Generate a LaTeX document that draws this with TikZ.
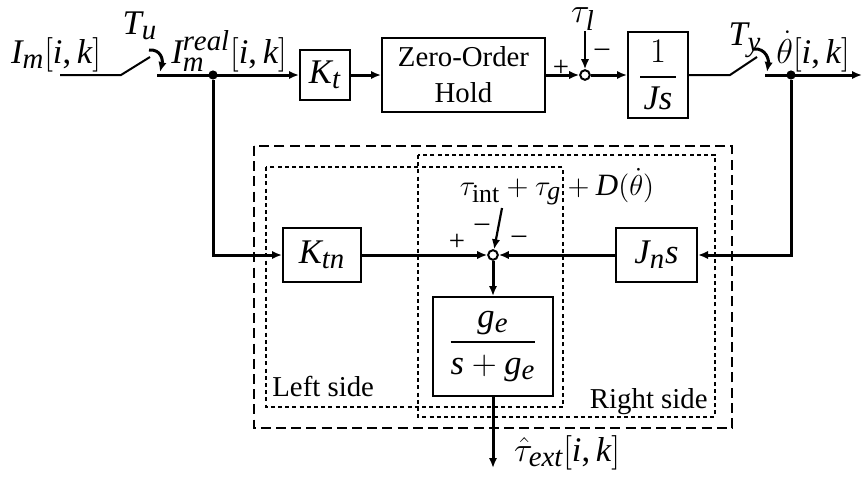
\documentclass[tikz,border=0pt]{standalone}
\usepackage{fontspec}
\setmainfont{Liberation Serif}
\usepackage{amsmath}
\usepackage[italic]{mathastext}
\usetikzlibrary{arrows.meta}
\tikzset{
  block/.style={draw, line width=1pt, inner sep=0pt, align=center, font=\LARGE},
  sumnode/.style={draw, circle, line width=1pt, fill=white, minimum size=4.8pt, inner sep=0pt},
  junction/.style={circle, fill=black, minimum size=4.6pt, inner sep=0pt},
  lbl/.style={inner sep=0pt, font=\LARGE},
  sign/.style={inner sep=0pt, font=\Large},
  wire/.style={line width=1.5pt},
  thinwire/.style={line width=1pt},
  arrow/.style={-{Latex[length=5pt,width=4.2pt]}, line width=1.5pt},
  thinarrow/.style={-{Latex[length=5pt,width=4.2pt]}, line width=1.1pt},
  outerbox/.style={line width=1pt, dash pattern=on 5pt off 2.6pt},
  sidebox/.style={line width=0.75pt, dash pattern=on 2pt off 1.6pt}
}
\begin{document}
\begin{tikzpicture}[x=0.5pt, y=-0.5pt]
  \useasboundingbox (0,0) rectangle (863,482);
  \draw[outerbox] (254,146) rectangle (732,428);
  \draw[sidebox] (266,167) rectangle (563,407);
  \draw[sidebox] (418,155) rectangle (715,417);
  \node[lbl, font=\Large, anchor=base west] (leftlbl) at (272,396) {Left side};
  \node[lbl, font=\Large, anchor=base east] (rightlbl) at (708,408) {Right side};

  \node[block, minimum width=25pt, minimum height=25pt] (Kt) at (325,75) {$K_t$};
  \node[block, font=\Large, minimum width=81.5pt, minimum height=37pt] (zoh) at (463.5,75) {Zero-Order\\Hold};
  \node[sumnode] (sum1) at (585,75) {};
  \node[block, minimum width=30pt, minimum height=43pt] (Js) at (658,75) {$\dfrac{\;1\;}{Js}$};

  \node[lbl, anchor=base] (Im) at (56,63) {$I_m[i,k]$};
  \node[lbl, anchor=base] (Tu) at (140,34) {$T_u$};
  \node[lbl, anchor=base] (Ireal) at (229,63) {$I_m^{real}[i,k]$};
  \node[lbl, anchor=base] (taul) at (583,22) {$\tau_l$};
  \node[lbl, anchor=base] (Ty) at (745,46) {$T_y$};
  \node[lbl, anchor=base] (thdot) at (813,63) {$\dot\theta[i,k]$};

  \coordinate (inL) at (60,75);
  \coordinate (swu1) at (121,75);
  \coordinate (swu2) at (150,57);
  \coordinate (swu3) at (157,75);
  \coordinate (tuA) at (149,50);
  \coordinate (tuB) at (160,72);
  \coordinate (taulTop) at (585,31);
  \coordinate (swy1) at (730,75);
  \coordinate (swy2) at (757,57);
  \coordinate (swy3) at (765,75);
  \coordinate (tyA) at (754,49);
  \coordinate (tyB) at (767,72);
  \coordinate (outR) at (862,75);
  \node[junction] (dotA) at (213,75) {};
  \node[junction] (dotB) at (791,75) {};

  \node[block, minimum width=39pt, minimum height=27pt] (Ktn) at (322,255) {$K_{tn}$};
  \node[block, minimum width=40.5pt, minimum height=27pt] (Jns) at (656.5,255) {$J_n s$};
  \node[sumnode] (sum2) at (493,255) {};
  \node[block, minimum width=60pt, minimum height=49.5pt] (ge) at (493,346.5) {$\dfrac{g_e}{s+g_e}$};
  \coordinate (distTop) at (502,208);
  \node[lbl, font=\fontsize{15.5}{18}\selectfont, anchor=base] (dist) at (557,195) {$\tau_{\mathrm{int}}+\tau_g+D(\dot\theta)$};
  \coordinate (extOut) at (493,468);
  \node[lbl, anchor=base] (tauext) at (567,461) {$\hat\tau_{ext}[i,k]$};

  \node[sign] (p1) at (561,68) {+};
  \node[sign] (m1) at (602,53) {$-$};
  \node[sign] (p2) at (457,242) {+};
  \node[sign] (m2) at (482,228) {$-$};
  \node[sign] (m3) at (519,240) {$-$};

  \draw[thinwire] (inL) -- (swu1) -- (swu2);
  \draw[arrow] (tuA) .. controls (161,49) and (163,60) .. (tuB);
  \draw[arrow] (swu3) -- (Kt);
  \draw[arrow] (Kt) -- (zoh);
  \draw[arrow] (zoh) -- (sum1);
  \draw[thinarrow] (taulTop) -- (sum1);
  \draw[arrow] (sum1) -- (Js);
  \draw[thinwire] (Js) -- (swy1) -- (swy2);
  \draw[arrow] (tyA) .. controls (766,48) and (769,60) .. (tyB);
  \draw[arrow] (swy3) -- (outR);
  \draw[arrow] (dotA) |- (Ktn);
  \draw[arrow] (dotB) |- (Jns);
  \draw[arrow] (Ktn) -- (sum2);
  \draw[arrow] (Jns) -- (sum2);
  \draw[thinarrow] (distTop) -- (sum2);
  \draw[arrow] (sum2) -- (ge);
  \draw[arrow] (ge) -- (extOut);
\end{tikzpicture}
\end{document}
